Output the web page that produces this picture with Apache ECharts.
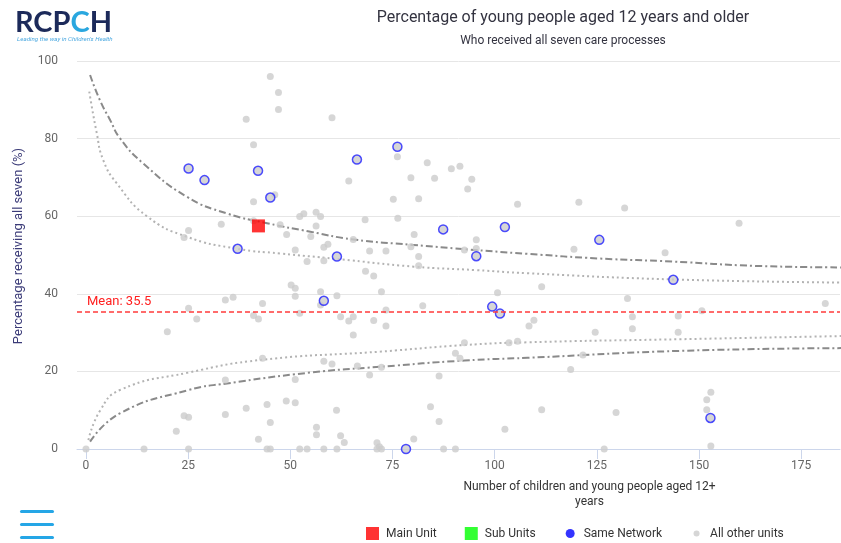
<!DOCTYPE html>
<html><head><meta charset="utf-8">
<script src="https://cdn.jsdelivr.net/npm/echarts@6/dist/echarts.min.js"></script>
<style>html,body{margin:0;padding:0;background:#fff}#chart{width:841px;height:543px}</style>
</head><body><div id="chart"></div>
<script>
// ---- data ----
const otherUnits = [[45.1,96.0],[47.1,91.9],[47.1,87.5],[39.2,85.0],[60.2,85.4],[41.0,78.4],[76.2,75.3],[83.5,73.8],[79.5,69.9],[85.3,69.8],[89.4,72.2],[91.5,72.9],[94.4,69.5],[93.4,67.0],[64.3,69.1],[75.2,64.4],[81.4,64.5],[105.6,63.1],[120.6,63.6],[131.8,62.1],[159.8,58.2],[46.2,65.5],[41.0,63.7],[52.3,59.9],[53.3,60.6],[56.3,61.0],[57.4,59.9],[56.3,57.5],[47.5,57.8],[41.0,58.8],[33.1,57.9],[49.1,55.3],[25.1,56.3],[24.0,54.5],[55.0,54.8],[68.3,59.1],[76.3,59.5],[65.4,54.0],[80.3,55.3],[51.2,51.3],[58.2,52.0],[59.2,52.8],[69.4,51.0],[73.4,51.0],[79.5,52.1],[81.4,49.6],[92.6,51.3],[95.5,53.9],[95.5,51.7],[54.1,48.3],[58.2,48.5],[81.4,47.2],[68.4,45.8],[70.4,44.6],[119.4,51.5],[141.7,50.6],[111.5,41.8],[50.2,42.3],[51.2,41.4],[51.2,39.4],[57.4,40.5],[61.4,39.5],[72.3,40.5],[100.7,40.3],[57.4,37.1],[52.3,35.0],[73.4,35.8],[82.4,36.9],[62.3,34.1],[64.3,33.0],[65.4,34.1],[70.4,33.1],[73.4,31.7],[65.4,29.4],[108.4,31.7],[109.6,33.2],[132.5,38.8],[180.9,37.5],[150.7,35.6],[133.7,34.1],[144.9,34.3],[124.6,30.1],[133.7,31.0],[144.9,30.1],[34.1,38.4],[36.0,39.1],[25.1,36.3],[27.1,33.5],[19.9,30.2],[43.2,37.5],[41.0,34.4],[42.2,33.5],[43.2,23.4],[34.1,17.8],[51.2,17.9],[92.6,27.4],[90.4,24.7],[91.5,23.4],[103.5,27.4],[105.6,27.8],[58.2,22.6],[60.2,21.9],[66.4,21.4],[72.3,21.1],[69.4,19.1],[86.4,18.8],[118.6,20.5],[121.6,24.2],[49.0,12.4],[51.2,11.9],[61.3,10.0],[84.3,10.9],[86.4,7.1],[56.4,5.6],[56.4,3.7],[62.3,3.4],[63.2,1.7],[71.2,1.6],[71.8,0.6],[80.2,2.6],[102.5,5.1],[24.0,8.6],[25.1,8.2],[22.1,4.6],[34.1,8.9],[39.2,10.5],[44.3,11.5],[45.1,6.8],[42.2,2.5],[111.5,10.1],[129.7,9.4],[152.9,14.6],[151.9,12.7],[151.9,10.1],[152.9,0.8],[0,0],[14.2,0],[25.1,0],[44.3,0],[45.1,0],[52.3,0],[54.1,0],[58.2,0],[61.4,0],[71.2,0],[72.3,0],[87.5,0],[90.4,0],[126.8,0]];
const sameNetwork = [[25.1,72.3],[29.0,69.3],[42.1,71.7],[45.1,64.8],[37.1,51.6],[66.3,74.6],[76.2,77.9],[87.4,56.6],[102.5,57.2],[61.4,49.6],[95.5,49.7],[125.6,53.9],[143.7,43.6],[58.2,38.2],[99.4,36.7],[101.3,34.9],[152.8,8.0],[78.3,0]];
const mainUnit = [[42.2,57.5]];
const subUnits = [];
const meanValue = 35.5;
const upperOuter = [[1,96.4],[3.4,89.9],[5.9,84.8],[8.3,80.1],[14,73.6],[24.7,65.0],[34.5,60.7],[44.3,58.2],[54.9,56.0],[65.4,54.0],[80.1,52.6],[92.6,51.5],[108,50.3],[125.6,49.1],[143.7,48.3],[163.6,47.2],[184.8,46.8]];
const upperInner = [[0.8,92.1],[2.6,81.6],[4.2,74.5],[7.5,68.5],[14.9,60.0],[24.7,54.7],[37.1,51.6],[47.5,50.4],[61.3,49.0],[80.2,47.0],[95.5,46.1],[108,45.3],[143.7,43.7],[184.8,42.9]];
const lowerInner = [[0.6,2.3],[3.4,9.8],[8.3,15.2],[25.1,19.7],[43.2,23.0],[72.1,25.1],[92.6,26.8],[108,27.5],[145.6,28.3],[184.8,29.1]];
const lowerOuter = [[1,1.9],[8.3,9.2],[25.1,15.2],[34.5,16.9],[54.9,19.7],[72.1,21.2],[92.6,22.8],[108,23.5],[145.6,25.3],[184.8,26.0]];
const xTickValues = [0,25,50,75,100,125,150,175];
const yTickValues = [0,20,40,60,80,100];

const chart = echarts.init(document.getElementById('chart'), null, {renderer:'canvas'});
const FONT = 'Roboto';
const curve = (name, data, color, type) => ({
  name, type:'line', data, smooth:0.5, symbol:'none', silent:true, z:1,
  lineStyle:{color, width:2, type}, emphasis:{disabled:true}, tooltip:{show:false}
});
chart.setOption({
  animation:false,
  textStyle:{fontFamily:FONT},
  title:{
    text:'Percentage of young people aged 12 years and older',
    subtext:'Who received all seven care processes',
    left:558, top:5, textAlign:'center', itemGap:9,
    textStyle:{fontFamily:FONT, fontSize:16, fontWeight:'normal', color:'#333340'},
    subtextStyle:{fontFamily:FONT, fontSize:12, color:'#333340'}
  },
  grid:{left:77, right:1, top:61, bottom:94, containLabel:false},
  legend:{
    left:366, top:527, padding:0, itemWidth:13, itemHeight:13, itemGap:28,
    textStyle:{fontFamily:FONT, fontSize:12, color:'#333', padding:[0,0,0,2]},
    data:[
      {name:'Main Unit', icon:'rect'},
      {name:'Sub Units', icon:'rect'},
      {name:'Same Network', icon:'path://M0,0M13,13M2,6.5a4.5,4.5 0 1,0 9,0a4.5,4.5 0 1,0 -9,0z', itemStyle:{color:'#0000ff', borderWidth:0}},
      {name:'All other units', icon:'path://M0,0M13,13M3.5,6.5a3,3 0 1,0 6,0a3,3 0 1,0 -6,0z', itemStyle:{color:'#cccccc', borderWidth:0}}
    ]
  },
  xAxis:{
    type:'value', min:-2.2, max:184.5,
    name:'Number of children and young people aged 12+\nyears', nameLocation:'middle', nameGap:30,
    nameTextStyle:{fontFamily:FONT, fontSize:12, color:'#333', lineHeight:15, padding:[0,0,0,262]},
    axisLine:{show:true, lineStyle:{color:'#ccd6eb', width:1}},
    axisTick:{show:true, length:10, lineStyle:{color:'#ccd6eb'}, customValues:xTickValues},
    axisLabel:{color:'#666', fontSize:12, margin:11, customValues:xTickValues},
    splitLine:{show:false}
  },
  yAxis:{
    type:'value', min:0, max:100, interval:20,
    name:'Percentage receiving all seven (%)', nameLocation:'middle', nameGap:52,
    nameTextStyle:{fontFamily:FONT, fontSize:13, color:'#3b3b78', padding:[0,0,0,18]},
    axisLine:{show:false}, axisTick:{show:false},
    axisLabel:{color:'#666', fontSize:12, margin:19},
    splitLine:{lineStyle:{color:'#e6e6e6', width:1}}
  },
  series:[
    curve('upperOuter', upperOuter, '#8a8a8a', [7,3,2,3]),
    curve('lowerOuter', lowerOuter, '#8a8a8a', [7,3,2,3]),
    curve('upperInner', upperInner, '#b3b3b3', [2,3]),
    curve('lowerInner', lowerInner, '#b3b3b3', [2,3]),
    {
      name:'All other units', type:'scatter', data:otherUnits, symbolSize:7, z:3,
      itemStyle:{color:'#cccccc'},
      markLine:{
        silent:true, symbol:'none', data:[{yAxis:meanValue}],
        lineStyle:{color:'#ff3b3b', type:[5,3], width:1.5},
        label:{show:true, position:'insideStartTop', formatter:'Mean: ' + meanValue, color:'#ff2020', fontSize:13, fontFamily:FONT, distance:[10,3]}
      }
    },
    {
      name:'Same Network', type:'scatter', data:sameNetwork, symbolSize:9, z:4,
      itemStyle:{color:'#cccccc', borderColor:'#2222ff', borderWidth:1.5}
    },
    { name:'Sub Units', type:'scatter', data:subUnits, symbol:'rect', symbolSize:12, z:5, itemStyle:{color:'#00ff00'} },
    { name:'Main Unit', type:'scatter', data:mainUnit, symbol:'rect', symbolSize:13, z:6, itemStyle:{color:'#ff0000'} }
  ],
  graphic:[
    { type:'text', left:15, top:8, style:{
        text:'{n|RCP}{c|C}{n|H}', fontFamily:'Lato', fontWeight:'bold', fontSize:29,
        rich:{ n:{fill:'#1c2a5a', fontSize:29, fontWeight:'bold', fontFamily:'Lato'}, c:{fill:'#2aa7df', fontSize:29, fontWeight:'bold', fontFamily:'Lato'} } } },
    { type:'text', left:17, top:36, style:{ text:"Leading the way in Children's Health", fontSize:6.2, fontStyle:'italic', fill:'#4aa8e0', fontFamily:FONT } },
    { type:'group', left:20, top:510, children:[
      { type:'rect', shape:{x:0, y:0, width:34, height:3, r:1.5}, style:{fill:'#25a6e6'} },
      { type:'rect', shape:{x:0, y:13, width:34, height:3, r:1.5}, style:{fill:'#25a6e6'} },
      { type:'rect', shape:{x:0, y:26, width:34, height:3, r:1.5}, style:{fill:'#25a6e6'} }
    ]}
  ]
});
</script></body></html>
